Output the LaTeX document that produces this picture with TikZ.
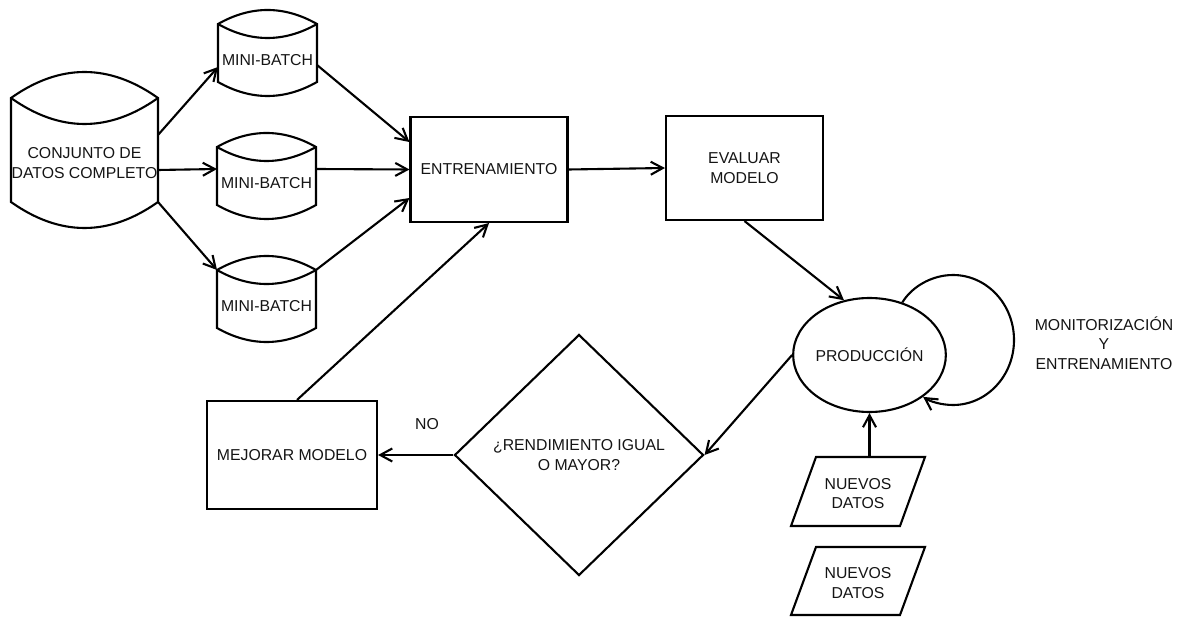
\documentclass[tikz,border=0pt]{standalone}
\usepackage{fontspec}
\setmainfont{Liberation Sans}
\usetikzlibrary{arrows.meta,shapes.geometric,calc}

\tikzset{
  outline/.style={draw=black, line width=2.1pt, line join=miter},
  conn/.style={draw=black, line width=2.1pt, -{Straight Barb[length=12pt,width=13pt]}},
  lbl/.style={font=\fontsize{15.8}{19.5}\selectfont, align=center, inner sep=0pt, text=black!92},
  anchorbox/.style={inner sep=0pt, outer sep=0pt},
  procbox/.style={lbl, outline, rectangle, inner sep=0pt},
}

% Storage drum: lens-shaped top, straight sides, convex bottom.
% #1 name, #2/#3 top-left corner, #4/#5 bottom-right corner, #6 arc depth, #7 text
\newcommand{\datadrum}[7]{%
  \pgfmathsetmacro{\drumw}{#4-#2}\pgfmathsetmacro{\drumh}{#5-#3}%
  \pgfmathsetmacro{\drumcx}{\drumw/3}\pgfmathsetmacro{\drumcy}{4*#6/3}%
  \node[anchorbox, minimum width=\drumw pt, minimum height=\drumh pt] (#1) at ({(#2+#4)/2},{(#3+#5)/2}) {};
  \draw[outline] (#1.north west) .. controls +(\drumcx,-\drumcy) and +(-\drumcx,-\drumcy) .. (#1.north east)
     -- (#1.south east) .. controls +(-\drumcx,\drumcy) and +(\drumcx,\drumcy) .. (#1.south west) -- cycle;
  \draw[outline] (#1.north west) .. controls +(\drumcx,\drumcy) and +(-\drumcx,\drumcy) .. (#1.north east);
  \node[lbl] (#1-text) at ($(#1.center)+(0,#6/2)$) {#7};
}

% Input parallelogram: #1 name, #2/#3 centre, #4 full width, #5 height, #6 slant, #7 text
\newcommand{\inputbox}[7]{%
  \node[anchorbox, minimum width=#4 pt, minimum height=#5 pt] (#1) at (#2,#3) {};
  \draw[outline] ([xshift=#6 pt]#1.north west) -- (#1.north east)
     -- ([xshift=-#6 pt]#1.south east) -- (#1.south west) -- cycle;
  \node[lbl] (#1-text) at ($(#1.center)+(0,2)$) {#7};
}

\begin{document}
\begin{tikzpicture}[x=1pt, y=-1pt]
\useasboundingbox (0,0) rectangle (1183,617);

% data sources
\datadrum{full}{11}{98}{158}{202}{26}{CONJUNTO DE\\DATOS COMPLETO}
\datadrum{mbA}{218}{24}{317}{82}{14}{MINI-BATCH}
\datadrum{mbB}{217}{147}{316}{205}{14}{MINI-BATCH}
\datadrum{mbC}{217}{270}{316}{328}{14}{MINI-BATCH}

% process steps
\node[procbox, minimum width=157pt, minimum height=105pt] (train) at (489,169.5) {ENTRENAMIENTO};
\node[procbox, minimum width=157pt, minimum height=104pt] (eval) at (744.5,168) {EVALUAR\\MODELO};
\node[procbox, minimum width=170pt, minimum height=108pt] (improve) at (292,455) {MEJORAR MODELO};
\node[lbl, outline, ellipse, inner sep=0pt, minimum width=131pt, minimum height=114pt] (prod) at (869.5,355) {PRODUCCIÓN};
\node[lbl, outline, diamond, inner sep=0pt, minimum width=249pt, minimum height=241pt] (check) at (579,455) {¿RENDIMIENTO IGUAL\\O MAYOR?};

\inputbox{newA}{858}{491.5}{134}{69}{25}{NUEVOS\\DATOS}
\inputbox{newB}{858}{581}{134}{68}{25}{NUEVOS\\DATOS}

% labels
\node[lbl] (nolabel) at (427,424) {NO};
\node[lbl] (monitor) at (1104,343) {MONITORIZACIÓN\\Y\\ENTRENAMIENTO};

% split into mini-batches
\draw[conn] ([yshift=15pt]full.east) -- ([yshift=-14pt]mbA.west);
\draw[conn] ([yshift=-20pt]full.east) -- ([yshift=7pt]mbB.west);
\draw[conn] (full.south east) -- (mbC.north west);

% mini-batches feed training
\draw[conn] ([yshift=-12pt]mbA.east) -- ([yshift=27.5pt]train.west);
\draw[conn] ([yshift=7pt]mbB.east) -- (train.west);
\draw[conn] (mbC.north east) -- ([yshift=-28.5pt]train.west);

% main flow
\draw[conn] (train.east) -- (eval.west);
\draw[conn] (eval.south) -- (prod.115);
\draw[conn] (prod.west) -- (check.east);
\draw[conn] (check.west) -- (improve.east);
\draw[conn] ([xshift=5pt]improve.north) -- (train.south);
\draw[conn] (prod.south |- newA.north) -- (prod.south);

% monitoring loop on production
\draw[conn] (prod.58) .. controls (911.7,286.9) and (931.6,275) .. (953,275)
  .. controls (986.7,275) and (1014,304.1) .. (1014,340)
  .. controls (1014,375.9) and (986.7,405) .. (953,405)
  .. controls (941.2,405) and (929.7,401.3) .. (prod.-38);
\end{tikzpicture}
\end{document}
